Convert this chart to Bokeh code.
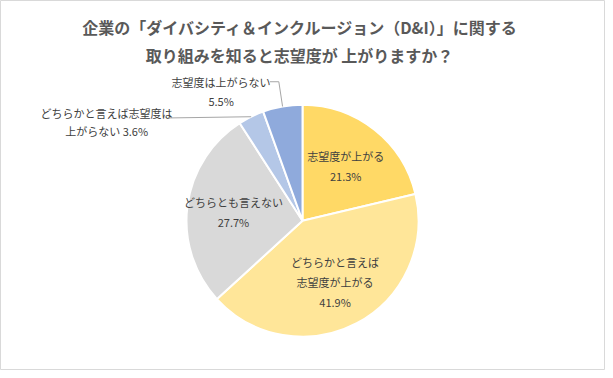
import math
from bokeh.plotting import figure
from bokeh.models import Range1d
from bokeh.core.properties import value
from bokeh.embed import file_html
from bokeh.resources import INLINE

# ---- data ----
categories = ["志望度が上がる", "どちらかと言えば志望度が上がる", "どちらとも言えない",
              "どちらかと言えば志望度は上がらない", "志望度は上がらない"]
label_texts = ["志望度が上がる", "どちらかと言えば\n志望度が上がる", "どちらとも言えない",
               "どちらかと言えば志望度は\n上がらない", "志望度は上がらない"]
pct_sep = ["\n", "\n", "\n", " ", "\n"]
values = [21.3, 41.9, 27.7, 3.6, 5.5]
colors = ["#FFD966", "#FFE699", "#D9D9D9", "#B4C7E7", "#8FAADC"]
title_lines = ["企業の「ダイバシティ＆インクルージョン（D&I）」に関する",
               "取り組みを知ると志望度が 上がりますか？"]

# ---- layout (reference pixel coords -> figure coords) ----
W, H = 605, 370
SX, SY = W / 613, H / 378


def fx(x):
    return x * SX


def fy(y):
    return H - y * SY


CX, CY, R = fx(306), fy(225), 116
FONT = value("Noto Sans CJK JP")

p = figure(width=W, height=H, x_range=Range1d(0, W), y_range=Range1d(0, H),
           output_backend="svg", toolbar_location=None, min_border=0,
           x_axis_location=None, y_axis_location=None)
p.grid.visible = False
p.outline_line_color = "#D9D9D9"
p.outline_line_width = 1
p.background_fill_color = "white"
p.border_fill_color = "white"

total = sum(values)
cum = [0.0]
for v in values:
    cum.append(cum[-1] + v)
starts = [math.pi / 2 - 2 * math.pi * c / total for c in cum[:-1]]
ends = [math.pi / 2 - 2 * math.pi * c / total for c in cum[1:]]
mids = [(s + e) / 2 for s, e in zip(starts, ends)]

p.wedge(x=[CX] * len(values), y=[CY] * len(values), radius=R,
        start_angle=starts, end_angle=ends, direction="clock",
        fill_color=colors, line_color="white", line_width=2)

# labels
full_labels = [f"{t}{sep}{v:.1f}%" for t, sep, v in zip(label_texts, pct_sep, values)]
lx, ly, lt = [], [], []
inside_factor = 0.6
outside_pos = {3: (fx(107.5), fy(124), 18), 4: (fx(223.5), fy(92.5), 19)}
for i, lab in enumerate(full_labels):
    lines = lab.split("\n")
    if i in outside_pos:
        x0, y0, sp = outside_pos[i]
    else:
        x0 = CX + inside_factor * R * math.cos(mids[i])
        y0 = CY + inside_factor * R * math.sin(mids[i])
        sp = 20
    n = len(lines)
    for k, ln in enumerate(lines):
        lx.append(x0)
        ly.append(y0 + sp * ((n - 1) / 2 - k))
        lt.append(ln)

p.text(x=lx, y=ly, text=lt, text_align="center", text_baseline="middle",
       text_font=FONT, text_font_size="11px", text_color="#404040")

# leader lines for outside labels
e3 = (CX + R * math.cos(mids[3]), CY + R * math.sin(mids[3]))
e4 = (CX + R * math.cos(mids[4]), CY + R * math.sin(mids[4]))
p.multi_line(xs=[[fx(170), e3[0]], [fx(273), fx(282), e4[0]]],
             ys=[[fy(120), e3[1]], [fy(83), fy(83), e4[1]]],
             line_color="#A6A6A6", line_width=1)

# title
p.text(x=[fx(304), fx(303)], y=[fy(27), fy(56)], text=title_lines, text_align="center",
       text_baseline="middle", text_font=FONT, text_font_size="16px",
       text_font_style="bold", text_color="#595959")

open("out.html", "w").write(file_html(p, INLINE))
